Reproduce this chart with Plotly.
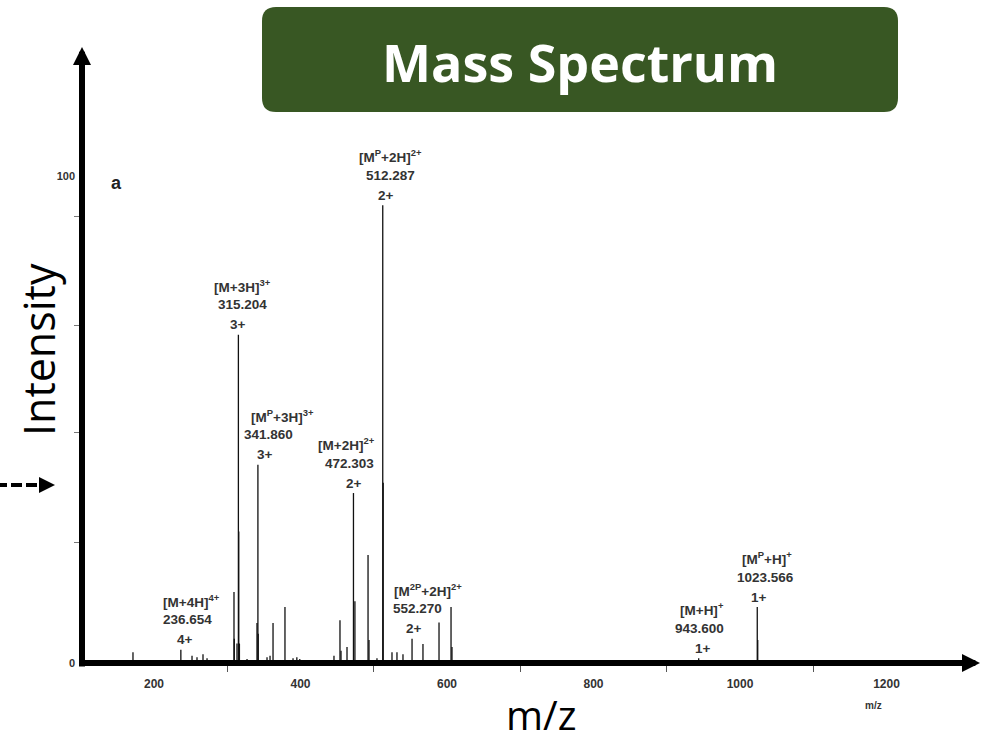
import plotly.graph_objects as go

# stick spectrum: m/z and relative intensity (%)
mz = [171.3, 236.654, 251.9, 258.7, 266.9, 272.4, 309.2, 309.6, 313.3, 315.204, 315.7, 316.6,
      327.0, 340.6, 341.860, 342.3, 354.3, 358.4, 362.5, 378.8, 389.8, 395.0, 399.0,
      445.7, 453.9, 455.3, 463.5, 472.303, 474.3, 492.2, 493.5, 504.4, 512.287, 512.9,
      524.9, 531.7, 539.9, 552.270, 567.2, 589.1, 605.5, 606.8, 627.3, 717.4, 943.600,
      1023.566, 1024.2, 1127.0]
intensity = [2.2, 2.7, 1.5, 1.2, 1.8, 1.0, 14.6, 5.0, 4.0, 67.4, 27.0, 4.0,
             0.8, 8.2, 40.7, 6.0, 1.2, 1.5, 8.2, 11.5, 1.0, 1.2, 0.8,
             1.5, 8.8, 2.5, 3.3, 34.9, 12.7, 22.2, 4.7, 1.0, 94.0, 37.0,
             2.2, 2.2, 1.8, 5.0, 3.9, 8.3, 11.5, 3.3, 0.6, 0.4, 1.0,
             11.5, 4.7, 0.4]

# annotated ions
label_mz = [236.654, 315.204, 341.860, 472.303, 512.287, 552.270, 943.600, 1023.566]
label_ion = ["[M+4H]<sup>4+</sup>", "[M+3H]<sup>3+</sup>", "[M<sup>P</sup>+3H]<sup>3+</sup>",
             "[M+2H]<sup>2+</sup>", "[M<sup>P</sup>+2H]<sup>2+</sup>", "[M<sup>2P</sup>+2H]<sup>2+</sup>",
             "[M+H]<sup>+</sup>", "[M<sup>P</sup>+H]<sup>+</sup>"]
label_charge = ["4+", "3+", "3+", "2+", "2+", "2+", "1+", "1+"]

x_ticks = [200, 400, 600, 800, 1000, 1200]
x_minor = [300, 500, 700, 900, 1100]
y_ticks = [0, 100]
y_minor = [24.8, 47.4, 69.4, 91.6]

# figure geometry (px)
W, H = 986, 742
L, R, T, B = 82, 6, 50, 79
pw, ph = W - L - R, H - T - B

def px(x):
    return (x - L) / pw

def py(y):
    return (H - B - y) / ph

# x: 0.7325 px per m/z unit, m/z 200 at 154 px ; y: 4.87 px per %
x_range = [200 - (154 - L) / 0.7325, 200 + (W - R - 154) / 0.7325]
y_range = [0, ph / 4.87]

xs, ys = [], []
for m, i in zip(mz, intensity):
    xs += [m, m, None]
    ys += [0, i, None]

fig = go.Figure()
fig.add_trace(go.Scatter(x=xs, y=ys, mode='lines', line=dict(color='#111111', width=1.3),
                         hoverinfo='skip', showlegend=False))

lab_font = dict(family='Liberation Sans, Arial', size=13.5, color='#333333', weight='bold')
# horizontal offsets (px) of ion / mass / charge lines relative to the peak
dx = [(11, 7, 4), (4, 4, 0), (25, 11, 7), (-7, -4, 1), (8, 8, 3), (16, 5.5, 1.5), (3, 1, 4), (10, 8, 2)]
lookup = dict(zip(mz, intensity))
for k, m in enumerate(label_mz):
    top = lookup[m]
    for txt, ysh, xsh in [(label_ion[k], 49, dx[k][0]), (f"{m:.3f}", 30, dx[k][1]),
                          (label_charge[k], 10, dx[k][2])]:
        fig.add_annotation(x=m, y=top, text=txt, showarrow=False, xshift=xsh, yshift=ysh,
                           xanchor='center', yanchor='middle', font=lab_font)

# axis arrows
fig.add_annotation(x=1.0, y=0, xref='paper', yref='paper', ax=-(pw + 2), ay=0,
                   axref='pixel', ayref='pixel', showarrow=True, arrowhead=2, arrowsize=0.6,
                   arrowwidth=6, arrowcolor='black', text='', standoff=0)
fig.add_annotation(x=0, y=py(47), xref='paper', yref='paper', ax=0, ay=621,
                   axref='pixel', ayref='pixel', showarrow=True, arrowhead=2, arrowsize=0.6,
                   arrowwidth=6, arrowcolor='black', text='', standoff=0)

# dashed pointer on the left
fig.add_shape(type='line', xref='paper', yref='paper', x0=px(-4), x1=px(40), y0=py(485), y1=py(485),
              line=dict(color='black', width=4, dash='11px,4px'))
fig.add_annotation(x=px(55), y=py(485), xref='paper', yref='paper', ax=-16, ay=0,
                   showarrow=True, arrowhead=2, arrowsize=0.8, arrowwidth=4, arrowcolor='black',
                   text='', standoff=0)

# title box with rounded corners
x0, x1, y0, y1, r = 262, 898, 7, 112, 14
path = (f"M {px(x0 + r)},{py(y0)} L {px(x1 - r)},{py(y0)} Q {px(x1)},{py(y0)} {px(x1)},{py(y0 + r)} "
        f"L {px(x1)},{py(y1 - r)} Q {px(x1)},{py(y1)} {px(x1 - r)},{py(y1)} "
        f"L {px(x0 + r)},{py(y1)} Q {px(x0)},{py(y1)} {px(x0)},{py(y1 - r)} "
        f"L {px(x0)},{py(y0 + r)} Q {px(x0)},{py(y0)} {px(x0 + r)},{py(y0)} Z")
fig.add_shape(type='path', path=path, xref='paper', yref='paper', fillcolor='#385723',
              line=dict(width=0), layer='above')

def note(x, y, text, font, **kw):
    fig.add_annotation(x=px(x), y=py(y), xref='paper', yref='paper', text=text, showarrow=False,
                       xanchor='center', yanchor='middle', font=font, **kw)

note(580, 62, '<b>Mass Spectrum</b>', dict(family='Open Sans', size=52, color='white'))
note(38, 350, 'Intensity', dict(family='Open Sans', size=43, color='black'), textangle=-90)
note(541, 714, 'm/z', dict(family='Open Sans', size=40, color='black'))
note(116, 183, 'a', dict(family='Liberation Sans, Arial', size=18, color='#222222', weight='bold'))
note(873, 705, 'm/z', dict(family='Liberation Sans, Arial', size=10, color='#333333', weight='bold'))

tick_font = dict(family='Liberation Sans, Arial', size=12, color='#333333', weight='bold')
fig.update_xaxes(range=x_range, showline=False, showgrid=False, zeroline=False,
                 tickvals=x_ticks, ticks='', tickfont=tick_font, ticklabelstandoff=12,
                 minor=dict(tickvals=x_minor, ticks='outside', ticklen=8, tickcolor='#555555', tickwidth=1))
fig.update_yaxes(range=y_range, showline=False, showgrid=False, zeroline=False,
                 tickvals=y_ticks, ticks='', tickfont=dict(tick_font, size=11), ticklabelstandoff=6,
                 minor=dict(tickvals=y_minor, ticks='outside', ticklen=7, tickcolor='#777777', tickwidth=1))
fig.update_layout(width=W, height=H, margin=dict(l=L, r=R, t=T, b=B),
                  plot_bgcolor='white', paper_bgcolor='white', showlegend=False)

fig.write_html("out.html", config={'displayModeBar': False},
               post_script="document.body.style.margin='0';")
